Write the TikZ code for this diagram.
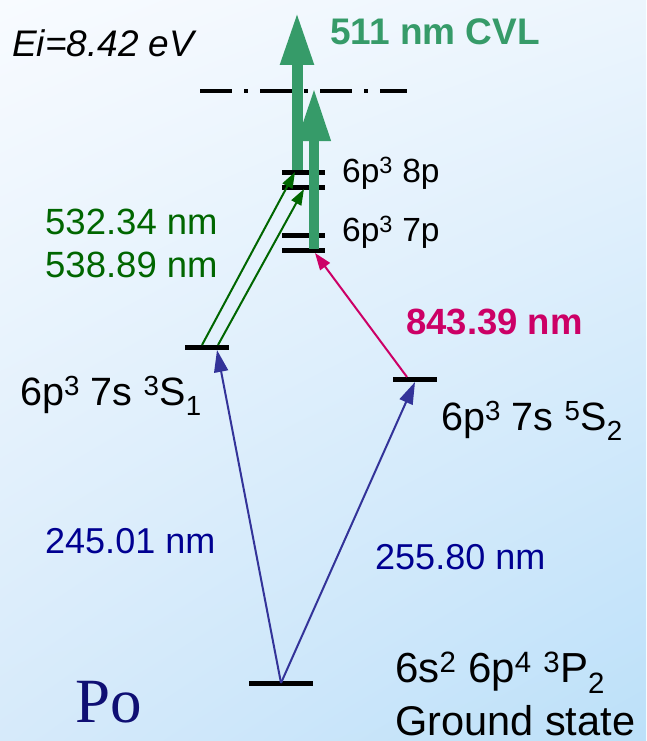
\documentclass[tikz,border=0pt]{standalone}
\usepackage{fontspec}
\setmainfont{Liberation Sans}
\newfontfamily\poserif{Liberation Serif}
\usetikzlibrary{arrows.meta, shadings}

\begin{document}
\begin{tikzpicture}[x=1pt,y=-1pt,
  levelbar/.style={fill=black,inner sep=0pt,minimum height=5pt},
  lbl/.style={anchor=base west,inner sep=0pt,text depth=0pt},
  pump/.style={line width=2pt,pumpblue,-{Triangle[length=22pt,width=14pt]}},
  exc/.style={line width=2pt,excgreen,-{Triangle[length=16pt,width=11pt]}},
  lasing/.style={lasergreen,-{Triangle[length=53pt,width=31pt]}}]
\definecolor{lasergreen}{RGB}{54,155,105}
\definecolor{excgreen}{RGB}{0,102,0}
\definecolor{pumpblue}{RGB}{51,51,153}
\definecolor{navytext}{RGB}{0,0,145}
\definecolor{poblue}{RGB}{15,15,115}
\definecolor{irmagenta}{RGB}{204,0,102}
\definecolor{bgul}{RGB}{248,251,255}
\definecolor{bgur}{RGB}{236,245,253}
\definecolor{bgll}{RGB}{214,234,250}
\definecolor{bglr}{RGB}{188,224,249}

% Light blue backdrop, fixes the page size too.
\shade[upper left=bgul,upper right=bgur,lower left=bgll,lower right=bglr]
  (0,0) rectangle (646,741);

% Ionisation limit.
\draw[line width=4pt,dash pattern=on 32pt off 12pt on 3.5pt off 12.5pt]
  (200,91) -- (407,91);

% Energy levels.
\node[levelbar,minimum width=64pt] (gnd) at (281,683) {};
\node[levelbar,minimum width=44pt] (s1) at (207,347) {};
\node[levelbar,minimum width=44pt] (s2) at (415,379) {};
\node[levelbar,minimum width=43pt] (p8a) at (303.5,172) {};
\node[levelbar,minimum width=43pt] (p8b) at (303.5,187) {};
\node[levelbar,minimum width=43pt] (p7a) at (303.5,235) {};
\node[levelbar,minimum width=43pt] (p7b) at (303.5,250) {};

% Arrow end points on the levels.
\coordinate (s1in) at (217,350);
\coordinate (s2in) at (415,382);
\coordinate (s1outa) at (202,345);
\coordinate (s1outb) at (218,345);
\coordinate (p8ina) at (295,172);
\coordinate (p8inb) at (304,189);
\coordinate (s2out) at (407,377);
\coordinate (p7in) at (315,253);
\coordinate (cvla) at (297,170);
\coordinate (cvlatop) at (297,12);
\coordinate (cvlb) at (314,249);
\coordinate (cvlbtop) at (314,88);

% First step, UV pump from the ground state.
\draw[pump] (gnd.center) -- (s1in);
\draw[pump] (gnd.center) -- (s2in);

% Second steps.
\draw[exc] (s1outa) -- (p8ina);
\draw[exc] (s1outb) -- (p8inb);
\draw[line width=2pt,irmagenta,-{Triangle[length=17pt,width=12pt]}]
  (s2out) -- (p7in);

% Ionising 511 nm steps.
\draw[lasing,line width=11pt] (cvla) -- (cvlatop);
\draw[lasing,line width=10pt] (cvlb) -- (cvlbtop);

% Labels.
\node[lbl,font=\fontsize{37}{37}\selectfont\itshape] (ei) at (12,56.7)
  {Ei=8.42 eV};
\node[lbl,lasergreen,font=\fontsize{37}{37}\selectfont\bfseries] (cvl)
  at (330,44.3) {511 nm CVL};
\node[lbl,font=\fontsize{33.5}{33.5}\selectfont] (l8p) at (342,182.7)
  {6p\textsuperscript{3} 8p};
\node[lbl,font=\fontsize{33.5}{33.5}\selectfont] (l7p) at (342,241.7)
  {6p\textsuperscript{3} 7p};
\node[lbl,excgreen,font=\fontsize{36.5}{36.5}\selectfont] (wl532) at (45,234.3)
  {532.34 nm};
\node[lbl,excgreen,font=\fontsize{36.5}{36.5}\selectfont] (wl539) at (45,277.7)
  {538.89 nm};
\node[lbl,irmagenta,font=\fontsize{36.5}{36.5}\selectfont\bfseries] (wl843)
  at (406,334.3) {843.39 nm};
\node[lbl,font=\fontsize{39.5}{39.5}\selectfont] (ls1) at (20,405)
  {6p\textsuperscript{3} 7s \textsuperscript{3}S\textsubscript{1}};
\node[lbl,font=\fontsize{39.5}{39.5}\selectfont] (ls2) at (441,430)
  {6p\textsuperscript{3} 7s \textsuperscript{5}S\textsubscript{2}};
\node[lbl,navytext,font=\fontsize{36}{36}\selectfont] (wl245) at (45,553)
  {245.01 nm};
\node[lbl,navytext,font=\fontsize{36}{36}\selectfont] (wl255) at (375,569.3)
  {255.80 nm};
\node[lbl,font=\fontsize{42}{42}\selectfont] (lgnd) at (395,682)
  {6s\textsuperscript{2} 6p\textsuperscript{4} \textsuperscript{3}P\textsubscript{2}};
\node[lbl,font=\fontsize{41.5}{41.5}\selectfont] (lgnd2) at (395,735)
  {Ground state};
\node[lbl,poblue,font=\fontsize{63}{63}\selectfont\poserif] (po)
  at (75.5,722.7) {Po};
\end{tikzpicture}
\end{document}
